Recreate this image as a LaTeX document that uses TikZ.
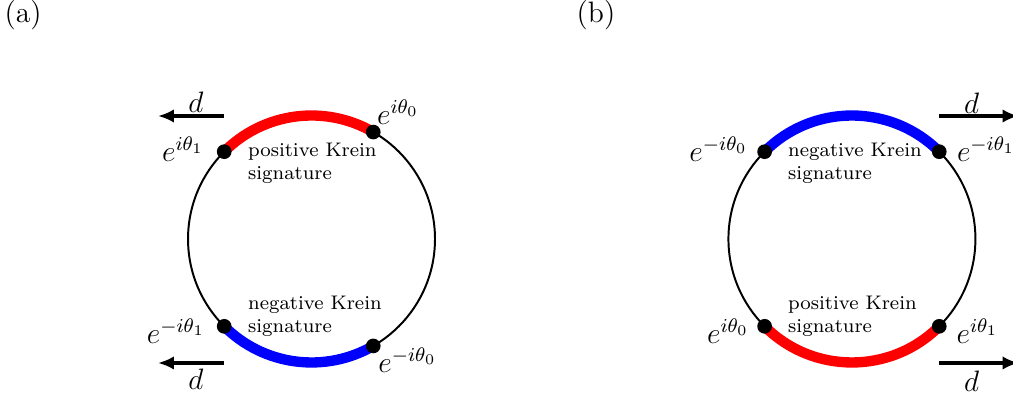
\documentclass[tikz,border=0pt]{standalone}
\usepackage{amsmath,amssymb}
\usepackage{xcolor}
\usepackage{tikz}
\usetikzlibrary{arrows.meta,calc}

\begin{document}
\begin{tikzpicture}[x=1cm, y=1cm,
    dot/.style={circle, fill=black, inner sep=0pt, minimum size=0.21cm},
    lbl/.style={font=\large},
    krein/.style={font=\footnotesize, align=left, anchor=north west},
    push/.style={-{Latex[length=6.5pt, width=5.5pt]}, line width=1.4pt},
    band/.style={line width=4.2pt}]
    %% circles: R=1.764, left centre (0,0), right centre (7.72,0)
    \useasboundingbox (-4.45, 3.414) rectangle (10.021, -2.272);

    % ---- PANEL (a) ----
    \node[lbl] (tagA) at (-4.121, 3.20) {(a)};
    \draw[thick] (0,0) circle[radius=1.764];
    \draw[red, band]  (60:1.764)  arc[start angle=60,  end angle=135, radius=1.764];
    \draw[blue, band] (225:1.764) arc[start angle=225, end angle=300, radius=1.764];
    \node[dot] (aP1) at (135:1.764) {};
    \node[dot] (aP0) at (60:1.764)  {};
    \node[dot] (aM1) at (225:1.764) {};
    \node[dot] (aM0) at (300:1.764) {};
    % eigenvalue labels
    \node[lbl] (aLP1) at (-1.836,  1.286) {$e^{i\theta_1}$};
    \node[lbl] (aLP0) at ( 1.236,  1.814) {$e^{i\theta_0}$};
    \node[lbl] (aLM1) at (-1.936, -1.314) {$e^{-i\theta_1}$};
    \node[lbl] (aLM0) at ( 1.371, -1.729) {$e^{-i\theta_0}$};
    % signature texts
    \node[krein] (aPos) at (-1.029,  1.500) {positive Krein\\signature};
    \node[krein] (aNeg) at (-1.029, -0.691) {negative Krein\\signature};
    % drift arrows
    \coordinate (aT0) at (-1.250,  1.757);
    \coordinate (aT1) at (-2.193,  1.757);
    \coordinate (aB0) at (-1.250, -1.771);
    \coordinate (aB1) at (-2.193, -1.771);
    \draw[push] (aT0) -- (aT1);
    \draw[push] (aB0) -- (aB1);
    \node[lbl] (aDT) at (-1.650,  1.957) {$d$};
    \node[lbl] (aDB) at (-1.650, -2.000) {$d$};

    % ---- PANEL (b) ----
    \node[lbl] (tagB) at (4.064, 3.20) {(b)};
    \draw[thick] (7.72,0) circle[radius=1.764];
    \draw[blue, band] ($(7.72,0)+(45:1.764)$) arc[start angle=45, end angle=135, radius=1.764];
    \draw[red, band]  ($(7.72,0)+(225:1.764)$) arc[start angle=225, end angle=315, radius=1.764];
    \node[dot] (bM0) at ($(7.72,0)+(135:1.764)$) {};
    \node[dot] (bM1) at ($(7.72,0)+(45:1.764)$)  {};
    \node[dot] (bP0) at ($(7.72,0)+(225:1.764)$) {};
    \node[dot] (bP1) at ($(7.72,0)+(315:1.764)$) {};
    % eigenvalue labels
    \node[lbl] (bLM0) at (5.814,  1.286) {$e^{-i\theta_0}$};
    \node[lbl] (bLM1) at (9.636,  1.286) {$e^{-i\theta_1}$};
    \node[lbl] (bLP0) at (5.950, -1.314) {$e^{i\theta_0}$};
    \node[lbl] (bLP1) at (9.514, -1.314) {$e^{i\theta_1}$};
    % signature texts
    \node[krein] (bNeg) at (6.686,  1.500) {negative Krein\\signature};
    \node[krein] (bPos) at (6.686, -0.691) {positive Krein\\signature};
    % drift arrows
    \coordinate (bT0) at ( 8.964,  1.757);
    \coordinate (bT1) at (10.100,  1.757);
    \coordinate (bB0) at ( 8.964, -1.771);
    \coordinate (bB1) at (10.100, -1.771);
    \draw[push] (bT0) -- (bT1);
    \draw[push] (bB0) -- (bB1);
    \node[lbl] (bDT) at (9.429,  1.943) {$d$};
    \node[lbl] (bDB) at (9.429, -2.030) {$d$};
\end{tikzpicture}
\end{document}
